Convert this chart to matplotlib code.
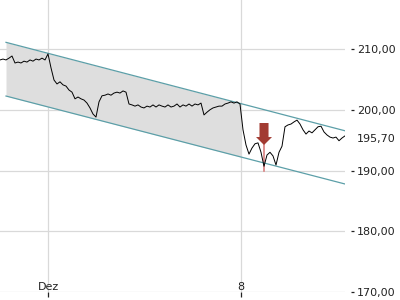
import numpy as np
import matplotlib
matplotlib.use("Agg")
import matplotlib.pyplot as plt
from matplotlib.patches import Polygon

# ---- data ----
t_start, t_end = -1.2435, 7.694       # trading days relative to 1 Dec
prices = [208.2, 208.35, 208.2, 208.5, 208.85, 207.7, 207.85, 207.7, 208.0, 207.85,
          208.2, 208.0, 208.35, 208.2, 208.5, 208.2, 209.2, 206.9, 204.9, 204.25,
          204.6, 204.1, 203.9, 203.25, 202.9, 201.8, 202.1, 201.8, 201.6, 201.1,
          200.3, 199.3, 198.8, 201.3, 202.3, 202.4, 202.6, 202.4, 202.75, 202.9,
          202.75, 203.1, 202.9, 200.95, 200.8, 200.6, 200.8, 200.45, 200.3, 200.6,
          200.45, 200.8, 200.45, 200.8, 200.6, 200.45, 200.8, 200.45, 200.6, 200.95,
          200.45, 200.8, 200.6, 200.95, 200.6, 200.95, 200.8, 201.1, 199.15, 199.6,
          200.0, 200.3, 200.45, 200.6, 200.6, 200.95, 201.1, 201.3, 201.1, 201.3,
          200.95, 196.7, 194.2, 192.7, 193.7, 194.4, 194.55, 193.0, 190.7, 192.55,
          193.0, 192.4, 190.9, 193.0, 194.0, 197.2, 197.5, 197.65, 198.0, 198.3,
          197.65, 196.7, 196.0, 196.5, 196.2, 196.7, 197.2, 197.3, 196.35, 195.85,
          195.5, 195.35, 195.5, 194.9, 195.35, 195.7]
last_price = 195.70
last_label_y = 195.2   # where the last-price label sits on the axis

chan_t = [-1.088, 7.694]
chan_upper = [211.1, 196.54]
chan_lower = [202.26, 187.78]
shade_end_t = 5.0

arrow_t = 5.596
arrow_top, arrow_neck, arrow_tip = 197.82, 195.51, 194.2
low_mark = 190.0

xtick_pos = [0, 5]
xtick_lab = ["Dez", "8"]
ytick_pos = [170, 180, 190, 200, 210]
ytick_lab = ["170,00", "180,00", "190,00", "200,00", "210,00"]

# ---- figure ----
fig = plt.figure(figsize=(4, 3), dpi=100)
ax = fig.add_axes([0, 8 / 300, 345 / 400, 292 / 300])
ax.set_xlim(t_start, t_end)
ax.set_ylim(170, 218.07)

t = np.linspace(t_start, t_end, len(prices))

# channel
tt = np.linspace(chan_t[0], shade_end_t, 50)
up = np.interp(tt, chan_t, chan_upper)
lo = np.interp(tt, chan_t, chan_lower)
ax.fill_between(tt, lo, up, color="#dedede", zorder=1, linewidth=0)
ax.plot(chan_t, chan_upper, color="#5c9fa8", lw=0.9, zorder=3)
ax.plot(chan_t, chan_lower, color="#5c9fa8", lw=0.9, zorder=3)

# grid
for y in ytick_pos:
    ax.axhline(y, color="#d9d9d9", lw=0.9, zorder=0.5)
for x in xtick_pos:
    ax.axvline(x, color="#d9d9d9", lw=0.9, zorder=0.5)

# low marker line
ax.plot([arrow_t, arrow_t], [arrow_tip, low_mark], color="#d98080", lw=1.2, zorder=2)

# price
ax.plot(t, prices, color="black", lw=0.7, zorder=4)

# arrow
bw, hw = 0.117, 0.207
arrow = Polygon([(arrow_t - bw, arrow_top), (arrow_t + bw, arrow_top),
                 (arrow_t + bw, arrow_neck), (arrow_t + hw, arrow_neck),
                 (arrow_t, arrow_tip), (arrow_t - hw, arrow_neck),
                 (arrow_t - bw, arrow_neck)], closed=True,
                facecolor="#a23b32", edgecolor="none", zorder=5)
ax.add_patch(arrow)

# axes styling
for s in ["top", "left", "bottom"]:
    ax.spines[s].set_visible(False)
ax.spines["right"].set_position(("outward", 4.3))
ax.spines["right"].set_visible(False)
ax.yaxis.tick_right()
ax.set_yticks(ytick_pos)
ax.set_yticklabels(ytick_lab)
ax.tick_params(axis="y", direction="out", length=2.2, width=0.9, pad=2.0,
               labelsize=8, colors="#222222")

# last price label (text only, no tick mark)
ax.annotate(f"{last_price:.2f}".replace(".", ","), xy=(1, last_label_y),
            xycoords=("axes fraction", "data"), xytext=(8.5, 0),
            textcoords="offset points", va="center", ha="left",
            fontsize=8, color="#222222")

ax.set_xticks(xtick_pos)
ax.set_xticklabels(xtick_lab)
ax.tick_params(axis="x", direction="out", length=3.6, width=0.9, pad=-10.8,
               labelsize=8, colors="#222222")

fig.savefig("out.png", dpi=100)
